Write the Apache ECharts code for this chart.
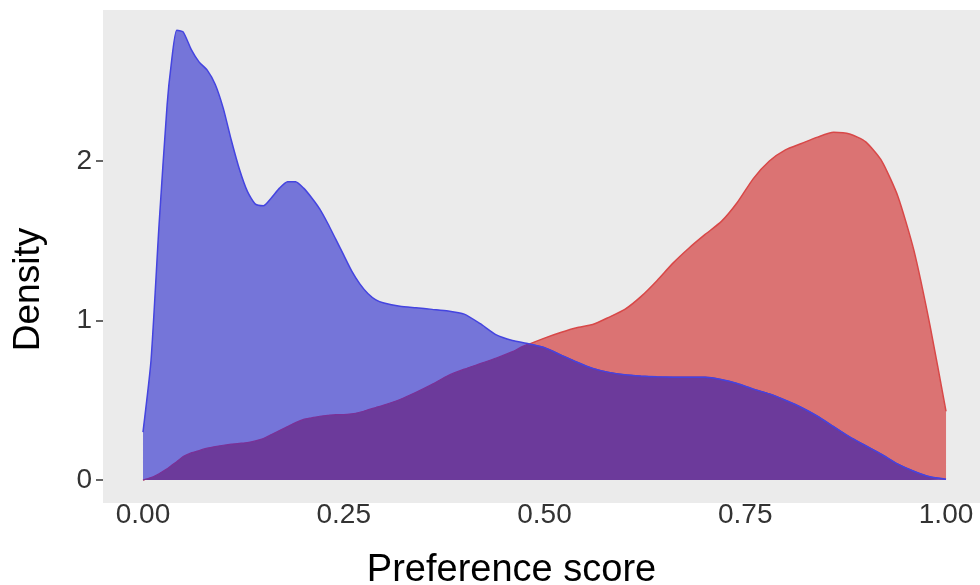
<!DOCTYPE html>
<html>
<head>
<meta charset="utf-8">
<script src="https://cdn.jsdelivr.net/npm/echarts@6/dist/echarts.min.js"></script>
<style>
html,body{margin:0;padding:0;background:#fff;}
#chart{width:980px;height:585px;}
</style>
</head>
<body>
<div id="chart"></div>
<script>
// Preference score grid (shared by both density curves)
const scores = [0.000,0.010,0.020,0.030,0.035,0.042,0.050,0.060,0.070,0.080,0.090,0.100,0.110,0.120,0.130,0.140,0.150,0.160,0.170,0.180,0.190,0.200,0.210,0.220,0.230,0.240,0.250,0.260,0.270,0.280,0.290,0.300,0.320,0.340,0.360,0.380,0.400,0.420,0.440,0.460,0.480,0.500,0.520,0.540,0.560,0.580,0.600,0.620,0.640,0.660,0.680,0.700,0.720,0.740,0.760,0.780,0.800,0.820,0.840,0.860,0.880,0.900,0.920,0.940,0.960,0.980,1.000];

// Blue density
const blueDensity = [0.30,0.75,1.60,2.35,2.60,2.82,2.81,2.70,2.62,2.57,2.48,2.33,2.13,1.95,1.81,1.73,1.72,1.77,1.83,1.87,1.87,1.83,1.77,1.70,1.61,1.51,1.41,1.31,1.23,1.17,1.13,1.11,1.09,1.08,1.07,1.06,1.04,0.98,0.91,0.875,0.855,0.83,0.785,0.74,0.70,0.675,0.66,0.652,0.647,0.645,0.645,0.645,0.63,0.605,0.57,0.54,0.50,0.455,0.40,0.335,0.27,0.215,0.16,0.10,0.055,0.02,0.005];

// Red density
const redDensity = [0.0,0.015,0.04,0.07,0.09,0.115,0.147,0.17,0.185,0.20,0.21,0.218,0.225,0.23,0.235,0.245,0.26,0.285,0.31,0.335,0.36,0.38,0.39,0.40,0.405,0.41,0.41,0.415,0.425,0.44,0.455,0.47,0.505,0.55,0.60,0.655,0.695,0.73,0.765,0.805,0.85,0.89,0.925,0.955,0.975,1.02,1.07,1.15,1.25,1.36,1.455,1.54,1.62,1.74,1.89,2.00,2.07,2.11,2.15,2.18,2.17,2.12,2.00,1.78,1.44,0.97,0.43];

// Tick labels
const xTicks = [0, 0.25, 0.5, 0.75, 1];
const yTicks = [0, 1, 2];

const pairs = arr => scores.map((x, i) => [x, arr[i]]);
const overlap = scores.map((x, i) => [x, Math.min(blueDensity[i], redDensity[i])]);

const chart = echarts.init(document.getElementById('chart'));
const FONT = 'Liberation Sans, Arial, sans-serif';
chart.setOption({
  animation: false,
  backgroundColor: '#ffffff',
  grid: {
    left: 103, right: 0, top: 10, bottom: 82,
    containLabel: false,
    outerBoundsMode: 'none',
    show: true, backgroundColor: '#ebebeb', borderWidth: 0
  },
  xAxis: {
    type: 'value',
    min: -0.0498, max: 1.0423,
    name: 'Preference score',
    nameLocation: 'middle',
    nameGap: 49,
    nameTextStyle: { fontFamily: FONT, fontSize: 38, color: '#000', padding: [0, 60, 0, 0] },
    axisLine: { show: false, onZero: false },
    axisTick: { show: false },
    splitLine: { show: false },
    axisLabel: {
      customValues: xTicks,
      formatter: v => v.toFixed(2),
      fontFamily: FONT, fontSize: 28, color: '#333', margin: -2
    }
  },
  yAxis: {
    type: 'value',
    min: -0.144, max: 2.947,
    name: 'Density',
    nameLocation: 'middle',
    nameRotate: 90,
    nameGap: 56,
    nameTextStyle: { fontFamily: FONT, fontSize: 37, color: '#000', padding: [0, 66, 0, 0] },
    axisLine: { show: false, onZero: false },
    axisTick: { show: true, customValues: yTicks, length: 7, lineStyle: { color: '#333', width: 1.5 } },
    splitLine: { show: false },
    axisLabel: {
      customValues: yTicks,
      fontFamily: FONT, fontSize: 28, color: '#333', margin: 11
    }
  },
  series: [
    {
      name: 'red', type: 'line', data: pairs(redDensity), smooth: 0.2,
      showSymbol: false, z: 1,
      lineStyle: { color: '#d84848', width: 1.5 },
      areaStyle: { color: '#db7373', opacity: 1 }
    },
    {
      name: 'blue', type: 'line', data: pairs(blueDensity), smooth: 0.2,
      showSymbol: false, z: 2,
      lineStyle: { width: 0 },
      areaStyle: { color: '#7575d9', opacity: 1 }
    },
    {
      name: 'overlap', type: 'line', data: overlap, smooth: 0.2,
      showSymbol: false, z: 3,
      lineStyle: { color: '#7b3197', width: 1.2 },
      areaStyle: { color: '#6c3a9b', opacity: 1 }
    },
    {
      name: 'blue line', type: 'line', data: pairs(blueDensity), smooth: 0.2,
      showSymbol: false, z: 4,
      lineStyle: { color: '#4444e0', width: 1.5 }
    }
  ]
});
</script>
</body>
</html>
